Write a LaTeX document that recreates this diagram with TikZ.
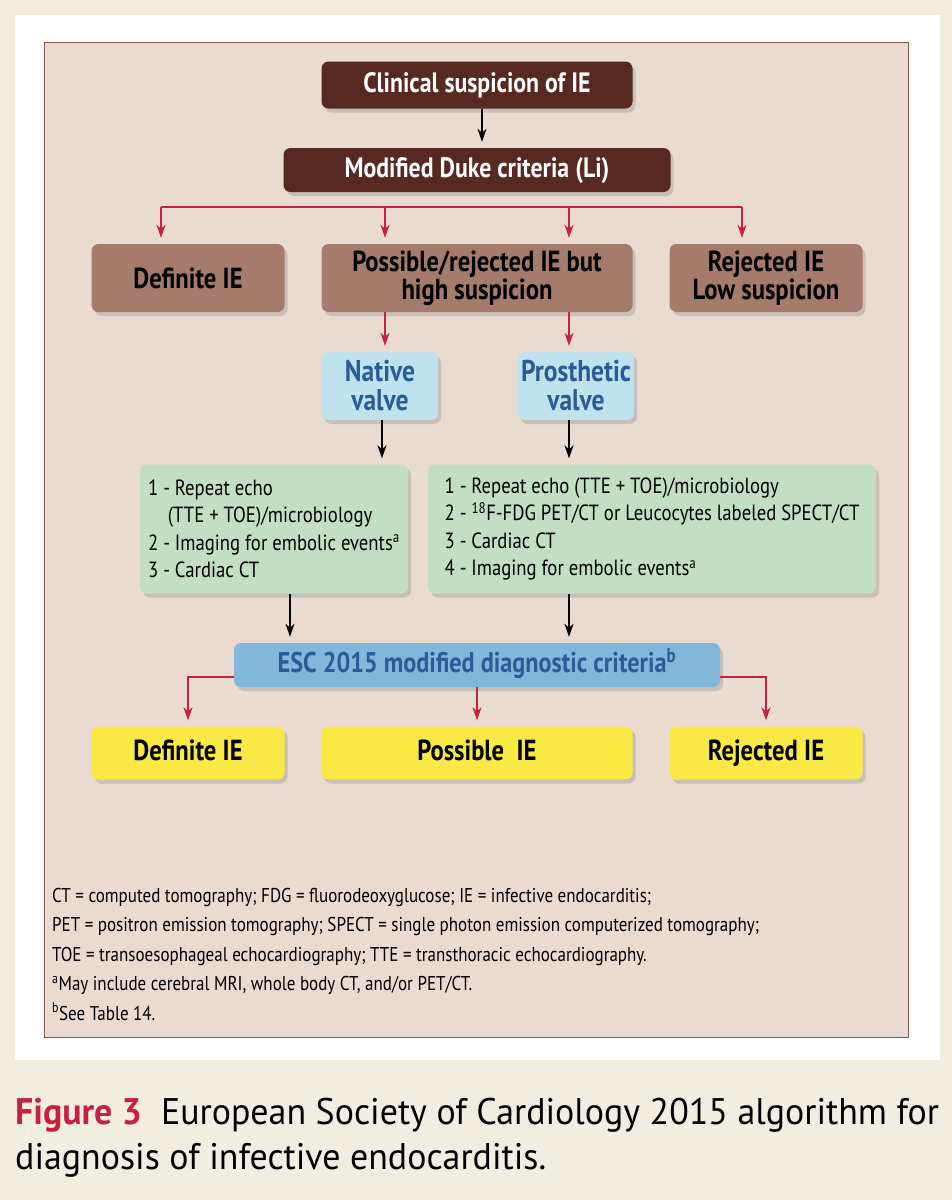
\documentclass[tikz,border=0pt]{standalone}
\usepackage{fontspec}
\setmainfont{PT Sans}[FakeStretch=0.85]
\newfontfamily\capfont{PT Sans}[FakeStretch=0.97]
\usetikzlibrary{arrows.meta,shadows}

\definecolor{pagebg}{HTML}{F1EEE1}
\definecolor{panelfill}{HTML}{E9DBD0}
\definecolor{panelline}{HTML}{8E4E4E}
\definecolor{darkbrown}{HTML}{572921}
\definecolor{midbrown}{HTML}{A57B6C}
\definecolor{valveblue}{HTML}{BFE2EE}
\definecolor{bluetext}{HTML}{2A5D97}
\definecolor{listgreen}{HTML}{C2DFC4}
\definecolor{escblue}{HTML}{80B7DA}
\definecolor{outyellow}{HTML}{F9E945}
\definecolor{arrowred}{HTML}{C8203F}

\tikzset{
  box/.style={rounded corners=7pt, inner sep=2pt, align=center,
    drop shadow={shadow xshift=3pt, shadow yshift=-4pt, opacity=0.3}},
  darkbox/.style={box, fill=darkbrown, text=white, font=\fontsize{28}{30}\selectfont\bfseries,
    text height=20pt, text depth=6pt},
  brownbox/.style={box, fill=midbrown, font=\fontsize{29}{28}\selectfont\bfseries},
  valvebox/.style={box, fill=valveblue, text=bluetext, font=\fontsize{30}{29}\selectfont\bfseries,
    minimum width=116pt, minimum height=68pt, inner sep=0pt},
  listbox/.style={box, fill=listgreen, align=left, font=\fontsize{22}{27.5}\selectfont,
    minimum height=129pt},
  escbox/.style={box, fill=escblue, text=bluetext, font=\fontsize{28.5}{30}\selectfont\bfseries,
    text height=20pt, text depth=6pt},
  outbox/.style={box, fill=outyellow, font=\fontsize{29}{30}\selectfont\bfseries,
    minimum height=53pt, text height=20pt, text depth=6pt},
  redarr/.style={draw=arrowred, line width=1.4pt, shorten >=6pt,
    -{Stealth[length=13pt, width=9pt, inset=4pt]}},
  redline/.style={draw=arrowred, line width=1.4pt},
  blkarr/.style={draw=black, line width=1.4pt, shorten >=6pt,
    -{Stealth[length=13pt, width=9pt, inset=4pt]}}
}

\begin{document}
\begin{tikzpicture}[x=1pt, y=-1pt]
  \useasboundingbox (0,0) rectangle (952,1200);
  \fill[pagebg] (0,0) rectangle (952,1200);
  \fill[white] (15,15) rectangle (940,1060);
  \draw[panelline, fill=panelfill, line width=1pt] (44,42) rectangle (908,1037);

  % top of the algorithm
  \node[darkbox, minimum width=311pt, minimum height=47pt] (clin) at (477,85) {Clinical suspicion of IE};
  \node[darkbox, minimum width=387pt, minimum height=44pt] (duke) at (477,170) {Modified Duke criteria (Li)};

  \node[brownbox, minimum width=193pt, minimum height=68pt] (def1) at (188,278) {Definite IE};
  \node[brownbox, minimum width=311pt, minimum height=68pt] (poss1) at (477,278) {Possible/rejected IE but\\high suspicion};
  \node[brownbox, minimum width=193pt, minimum height=68pt] (rej1) at (766,278) {Rejected IE\\Low suspicion};

  \node[valvebox] (native) at (380,386) {Native\\valve};
  \node[valvebox] (prosth) at (576,386) {Prosthetic\\valve};

  \node[listbox, minimum width=268pt] (listL) at (274,529) {%
    1 - Repeat echo\\
    \hspace{0.9em}(TTE + TOE)/microbiology\\
    2 - Imaging for embolic events\textsuperscript{a}\\
    3 - Cardiac CT};
  \node[listbox, minimum width=448pt] (listR) at (652,529) {%
    1 - Repeat echo (TTE + TOE)/microbiology\\
    2 - \textsuperscript{18}F-FDG PET/CT or Leucocytes labeled SPECT/CT\\
    3 - Cardiac CT\\
    4 - Imaging for embolic events\textsuperscript{a}};

  \node[escbox, minimum width=486pt, minimum height=44pt] (esc) at (477,665) {ESC 2015 modified diagnostic criteria\textsuperscript{b}};

  \node[outbox, minimum width=193pt] (def2) at (188,753) {Definite IE};
  \node[outbox, minimum width=311pt] (poss2) at (477,753) {Possible\ \ IE};
  \node[outbox, minimum width=193pt] (rej2) at (766,753) {Rejected IE};

  % connectors
  \coordinate (t1) at (161,207);
  \coordinate (t2) at (385,207);
  \coordinate (t3) at (569,207);
  \coordinate (t4) at (742,207);
  \coordinate (xL) at (290,0);
  \coordinate (xC) at (482,0);
  \draw[blkarr] (clin.south -| xC) -- (duke.north -| xC);
  \draw[redline] (t1) -- (t4);
  \draw[redarr] (t1) -- (t1 |- def1.north);
  \draw[redarr] (t2) -- (t2 |- poss1.north);
  \draw[redarr] (t3) -- (t3 |- poss1.north);
  \draw[redarr] (t4) -- (t4 |- rej1.north);

  \draw[redarr] (poss1.south -| t2) -- (native.north -| t2);
  \draw[redarr] (poss1.south -| t3) -- (prosth.north -| t3);
  \draw[blkarr] (native.south -| 382,0) -- (listL.north -| 382,0);
  \draw[blkarr] (prosth.south -| t3) -- (listR.north -| t3);

  \draw[blkarr] (listL.south -| xL) -- (esc.north -| xL);
  \draw[blkarr] (listR.south -| t3) -- (esc.north -| t3);

  \draw[redarr] ([yshift=-12pt]esc.west) -| (def2.north);
  \draw[redarr] (esc.south) -- (poss2.north);
  \draw[redarr] ([yshift=-12pt]esc.east) -| (rej2.north);

  % abbreviations
  \node[anchor=north west, align=left, inner sep=0pt, font=\fontsize{20}{29.5}\selectfont] (abbr) at (52,888) {%
    CT = computed tomography; FDG = fluorodeoxyglucose; IE = infective endocarditis;\\
    PET = positron emission tomography; SPECT = single photon emission computerized tomography;\\
    TOE = transoesophageal echocardiography; TTE = transthoracic echocardiography.\\
    \textsuperscript{a}May include cerebral MRI, whole body CT, and/or PET/CT.\\
    \textsuperscript{b}See Table 14.};

  % caption
  \node[anchor=north west, align=left, inner sep=0pt, font=\capfont\fontsize{37}{45}\selectfont] (cap) at (15,1098) {%
    {\color{arrowred}\bfseries Figure 3}\ \ European Society of Cardiology 2015 algorithm for\\
    diagnosis of infective endocarditis.};
\end{tikzpicture}
\end{document}
